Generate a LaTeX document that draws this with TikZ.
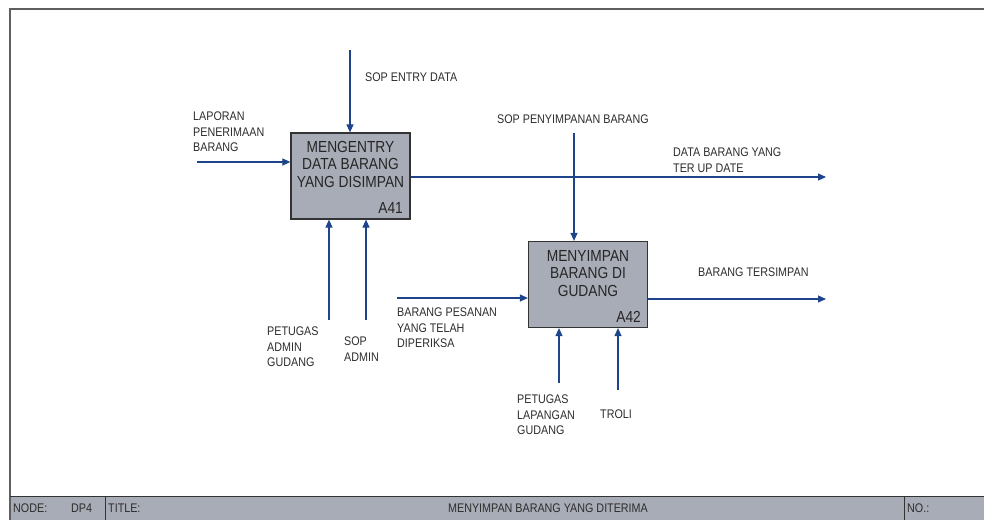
\documentclass[tikz,border=0pt]{standalone}
\usepackage{fontspec}
\setmainfont{Liberation Sans}
\newfontfamily\idefnarrow[FakeStretch=0.86]{Liberation Sans}
\usetikzlibrary{arrows.meta,calc}
\definecolor{flowblue}{RGB}{30,68,140}
\definecolor{boxgray}{RGB}{168,172,182}
\definecolor{framegray}{RGB}{95,95,95}
\definecolor{txtgray}{RGB}{45,45,45}

\begin{document}
\begin{tikzpicture}[x=1pt,y=-1pt,
  act/.style={draw=black!80,line width=1.2pt,fill=boxgray,minimum width=119pt,minimum height=86pt,inner sep=0pt},
  acttxt/.style={anchor=north,align=center,inner sep=0pt,font=\idefnarrow\fontsize{16}{17.5}\selectfont,text=black!85},
  actno/.style={anchor=base east,inner sep=0pt,font=\idefnarrow\fontsize{16}{17.5}\selectfont,text=black!85},
  ar/.style={-{Triangle[length=8pt,width=7pt]},flowblue,line width=1.1pt},
  lbl/.style={anchor=north west,align=left,inner sep=0pt,font=\idefnarrow\fontsize{12.5}{15.5}\selectfont,text=txtgray},
  bar/.style={anchor=west,inner sep=0pt,font=\idefnarrow\fontsize{12.5}{15}\selectfont,text=txtgray},
]
\useasboundingbox (0,0) rectangle (984,520);
% frame and title bar
\fill[boxgray] (10,496) rectangle (984,520);
\draw[framegray,line width=2pt] (984,9) -- (10,9) -- (10,520);
\draw[black!80,line width=1pt] (10,496) -- (984,496);
\draw[black!80,line width=1pt] (105,496) -- (105,520) (904,496) -- (904,520);
\node[bar] (nodelbl) at (13,508) {NODE:};
\node[bar] (nodeno) at (71,508) {DP4};
\node[bar] (titlelbl) at (108,508) {TITLE:};
\node[bar,anchor=center] (title) at (548,508) {MENYIMPAN BARANG YANG DITERIMA};
\node[bar] (nolbl) at (907,508) {NO.:};

% activities
\node[act] (a41) at (350.5,176) {};
\node[acttxt] (a41t) at ($(a41.north)+(0,8.7)$) {MENGENTRY\\DATA BARANG\\YANG DISIMPAN};
\node[actno] (a41n) at (403,213) {A41};
\node[act] (a42) at (588,284.5) {};
\node[acttxt] (a42t) at ($(a42.north)+(0,9)$) {MENYIMPAN\\BARANG DI\\GUDANG};
\node[actno] (a42n) at (641,322) {A42};

% A41 arrows
\coordinate (sopentry) at (350,50);
\draw[ar] (sopentry) -- (sopentry |- a41.north);
\node[lbl] (sopentryl) at (365,73) {SOP ENTRY DATA};
\coordinate (lapin) at (197,162);
\draw[ar] (lapin) -- (lapin -| a41.west);
\node[lbl] (lapinl) at (193,112) {LAPORAN\\PENERIMAAN\\BARANG};
\coordinate (dataout) at (826,177);
\draw[ar] (dataout -| a41.east) -- (dataout);
\node[lbl] (dataoutl) at (673,148) {DATA BARANG YANG\\TER UP DATE};
\coordinate (ptgadm) at (329,320);
\draw[ar] (ptgadm) -- (ptgadm |- a41.south);
\node[lbl] (ptgadml) at (267,327) {PETUGAS\\ADMIN\\GUDANG};
\coordinate (sopadm) at (366,320);
\draw[ar] (sopadm) -- (sopadm |- a41.south);
\node[lbl] (sopadml) at (344,337) {SOP\\ADMIN};

% A42 arrows
\coordinate (sopsimpan) at (574,133);
\draw[ar] (sopsimpan) -- (sopsimpan |- a42.north);
\node[lbl] (sopsimpanl) at (497,115) {SOP PENYIMPANAN BARANG};
\coordinate (pesanin) at (397,298);
\draw[ar] (pesanin) -- (pesanin -| a42.west);
\node[lbl] (pesaninl) at (397,308) {BARANG PESANAN\\YANG TELAH\\DIPERIKSA};
\coordinate (simpanout) at (826,299);
\draw[ar] (simpanout -| a42.east) -- (simpanout);
\node[lbl] (simpanoutl) at (698,268) {BARANG TERSIMPAN};
\coordinate (ptglap) at (559,383);
\draw[ar] (ptglap) -- (ptglap |- a42.south);
\node[lbl] (ptglapl) at (517,395) {PETUGAS\\LAPANGAN\\GUDANG};
\coordinate (troli) at (618,390);
\draw[ar] (troli) -- (troli |- a42.south);
\node[lbl] (trolil) at (600,410) {TROLI};
\end{tikzpicture}
\end{document}
